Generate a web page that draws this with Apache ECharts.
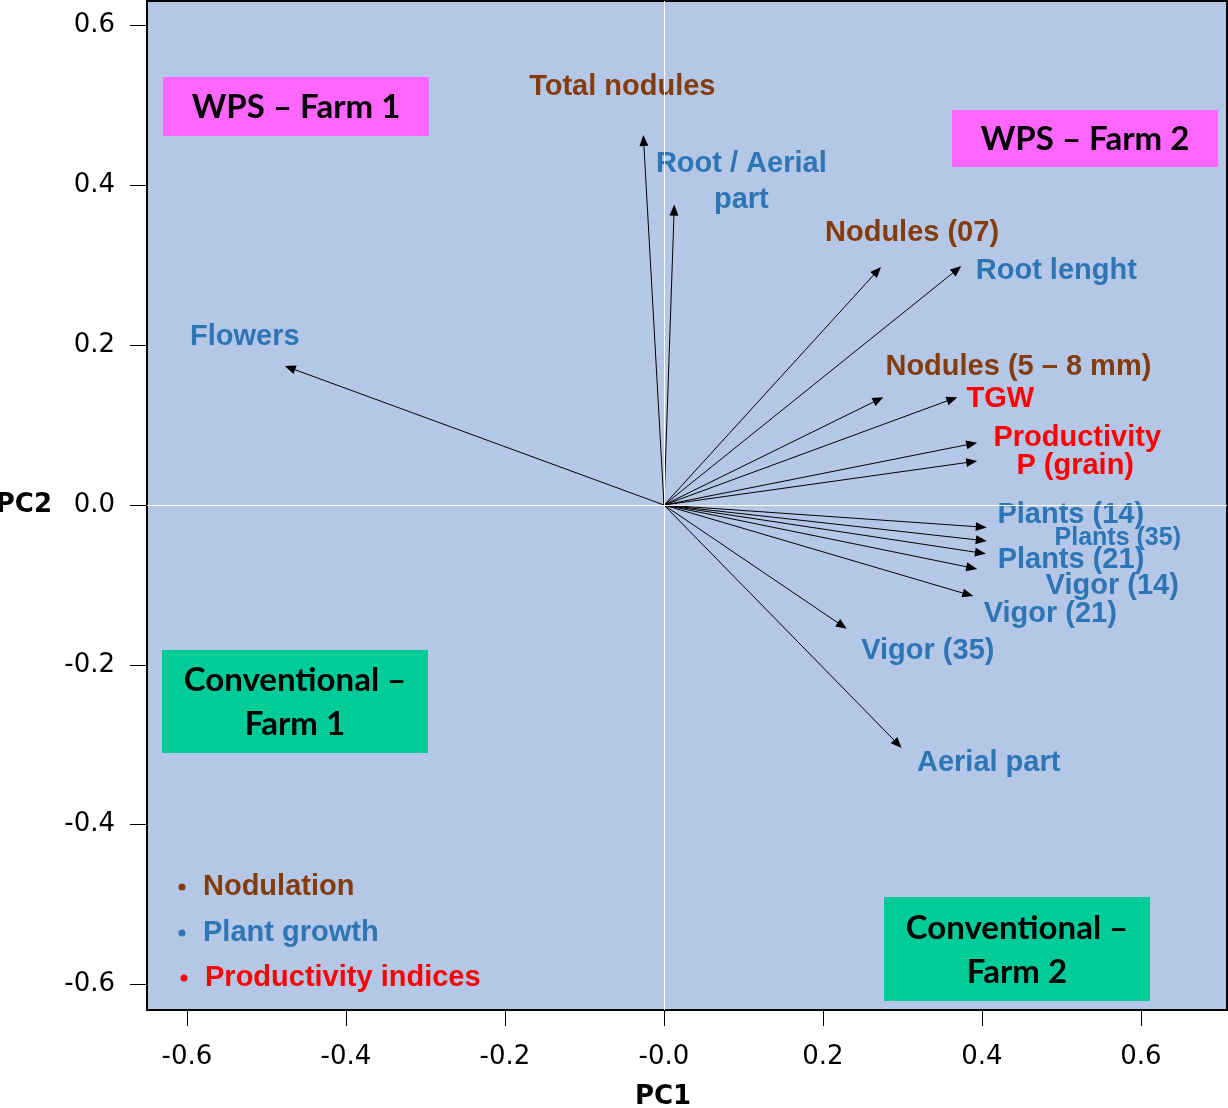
<!DOCTYPE html>
<html><head><meta charset="utf-8">
<script src="https://cdn.jsdelivr.net/npm/echarts@6/dist/echarts.min.js"></script>
<style>html,body{margin:0;padding:0;background:#fff}#c{width:1228px;height:1108px}</style>
</head><body><div id="c"></div>
<script>
// ---- data ----
const variables = ['Total nodules','Root / Aerial\npart','Nodules (07)','Root lenght','Flowers','Nodules (5 – 8 mm)','TGW','Productivity','P (grain)','Plants (14)','Plants (35)','Plants (21)','Vigor (14)','Vigor (21)','Vigor (35)','Aerial part'];
const pc1 = [-0.026, 0.013, 0.273, 0.374, -0.477, 0.276, 0.369, 0.394, 0.394, 0.406, 0.406, 0.405, 0.394, 0.389, 0.230, 0.299];
const pc2 = [0.463, 0.376, 0.298, 0.299, 0.174, 0.135, 0.135, 0.078, 0.055, -0.028, -0.045, -0.061, -0.080, -0.114, -0.155, -0.304];
const groupOf = [0, 1, 0, 1, 1, 0, 2, 2, 2, 1, 1, 1, 1, 1, 1, 1];
const groupNames = ['Nodulation', 'Plant growth', 'Productivity indices'];
const xTicks = [-0.6, -0.4, -0.2, 0, 0.2, 0.4, 0.6];
const yTicks = [-0.6, -0.4, -0.2, 0, 0.2, 0.4, 0.6];
const zoneNames = ['WPS – Farm 1', 'WPS – Farm 2', 'Conventional –\nFarm 1', 'Conventional –\nFarm 2'];

// ---- styles / layout ----
const groupColors = ['#843C0C', '#2E75B6', '#FF0000'];
const labelOffsets = [[-21,-48],[67,-23],[31,-34],[95,5],[-40,-29],[135,-30],[43,2],[100,-5],[98,5],[84,-12],[131,-3],[85,6],[135,17],[77,18],[81,22],[87,15]];
const labelSizes = [29,29,29,29,29,29,29,29,29,29,25,29,29,29,29,29];
const zoneBoxes = [
  {x:163, y:77, w:266, h:59, fill:'#FF66FF'},
  {x:952, y:110, w:266, h:57, fill:'#FF66FF'},
  {x:162, y:650, w:266, h:103, fill:'#00CC99'},
  {x:884, y:897, w:266, h:104, fill:'#00CC99'}
];
const legendPos = [{x:203, y:887}, {x:203, y:933}, {x:205, y:978}];

const chart = echarts.init(document.getElementById('c'), null, {renderer: 'canvas'});
const tickFont = "'DejaVu Sans', Verdana, sans-serif";
const labFont = "'Liberation Sans', Arial, sans-serif";
const boxFont = "Lato, 'Open Sans', sans-serif";

const graphics = [];
zoneBoxes.forEach((b, i) => {
  graphics.push({type:'rect', z: 5, shape:{x:b.x, y:b.y, width:b.w, height:b.h}, style:{fill:b.fill}});
  graphics.push({type:'text', z: 6, x: b.x + b.w/2, y: b.y + b.h/2 + 1,
    style:{text: zoneNames[i], fill:'#000', font: "bold 33px " + boxFont, align:'center', verticalAlign:'middle', lineHeight: 44}});
});
groupNames.forEach((g, i) => {
  const p = legendPos[i];
  graphics.push({type:'circle', z: 6, shape:{cx: p.x - 21, cy: p.y, r: 3.5}, style:{fill: groupColors[i]}});
  graphics.push({type:'text', z: 6, x: p.x, y: p.y,
    style:{text: g, fill: groupColors[i], font: "bold 29px " + labFont, align:'left', verticalAlign:'middle'}});
});

const arrowData = pc1.map((v, i) => [v, pc2[i], i]);

chart.setOption({
  animation: false,
  backgroundColor: '#fff',
  grid: {left: 147, right: 1, top: 1, bottom: 98, outerBoundsMode: 'none', containLabel: false,
    show: true, backgroundColor: '#B4C7E7', borderColor: '#000', borderWidth: 2},
  xAxis: {
    type: 'value', min: -0.6503, max: 0.7082,
    name: 'PC1', nameLocation: 'middle', nameGap: 74,
    nameTextStyle: {fontFamily: tickFont, fontWeight: 'bold', fontSize: 26, color: '#000', padding: [0, 48, 0, 0]},
    axisLine: {show: true, onZero: false, lineStyle: {color: '#000', width: 2}},
    axisTick: {show: true, length: 16, lineStyle: {color: '#000', width: 1}, customValues: xTicks},
    axisLabel: {customValues: xTicks, margin: 34, fontFamily: tickFont, fontSize: 26, color: '#000',
      formatter: v => (Math.abs(v) < 1e-9 ? '-0.0' : v.toFixed(1))},
    splitLine: {show: false}
  },
  yAxis: {
    type: 'value', min: -0.632, max: 0.6308,
    name: 'PC2', nameLocation: 'middle', nameRotate: 0, nameGap: 95,
    nameTextStyle: {fontFamily: tickFont, fontWeight: 'bold', fontSize: 26, color: '#000'},
    axisLine: {show: true, onZero: false, lineStyle: {color: '#000', width: 2}},
    axisTick: {show: true, length: 17, lineStyle: {color: '#000', width: 1}, customValues: yTicks},
    axisLabel: {customValues: yTicks, margin: 32, fontFamily: tickFont, fontSize: 26, color: '#000',
      formatter: v => (Math.abs(v) < 1e-9 ? '0.0' : v.toFixed(1))},
    splitLine: {show: false}
  },
  series: [
    {
      type: 'line', data: [], z: 1, silent: true,
      markLine: {silent: true, symbol: 'none', label: {show: false},
        lineStyle: {color: '#fff', width: 1, type: 'solid'},
        data: [{xAxis: 0}, {yAxis: 0}]}
    },
    {
      type: 'custom', z: 3, data: arrowData, clip: false,
      renderItem: (params, api) => {
        const i = api.value(2);
        const o = api.coord([0, 0]);
        const p = api.coord([api.value(0), api.value(1)]);
        const dx = p[0] - o[0], dy = p[1] - o[1];
        const len = Math.hypot(dx, dy);
        const ux = dx / len, uy = dy / len;
        const hl = 11, hw = 4.5;
        const bx = p[0] - ux * hl, by = p[1] - uy * hl;
        const nx = -uy, ny = ux;
        const off = labelOffsets[i];
        return {type: 'group', children: [
          {type: 'line', shape: {x1: o[0], y1: o[1], x2: bx + ux * 2, y2: by + uy * 2}, style: {stroke: '#000', lineWidth: 1}},
          {type: 'polygon', shape: {points: [[p[0], p[1]], [bx + nx * hw, by + ny * hw], [bx - nx * hw, by - ny * hw]]}, style: {fill: '#000'}},
          {type: 'text', x: p[0] + off[0], y: p[1] + off[1], style: {
            text: variables[i], fill: groupColors[groupOf[i]],
            font: 'bold ' + labelSizes[i] + 'px ' + labFont,
            align: 'center', verticalAlign: 'middle', lineHeight: 36}}
        ]};
      }
    }
  ],
  graphic: graphics
});
</script></body></html>
